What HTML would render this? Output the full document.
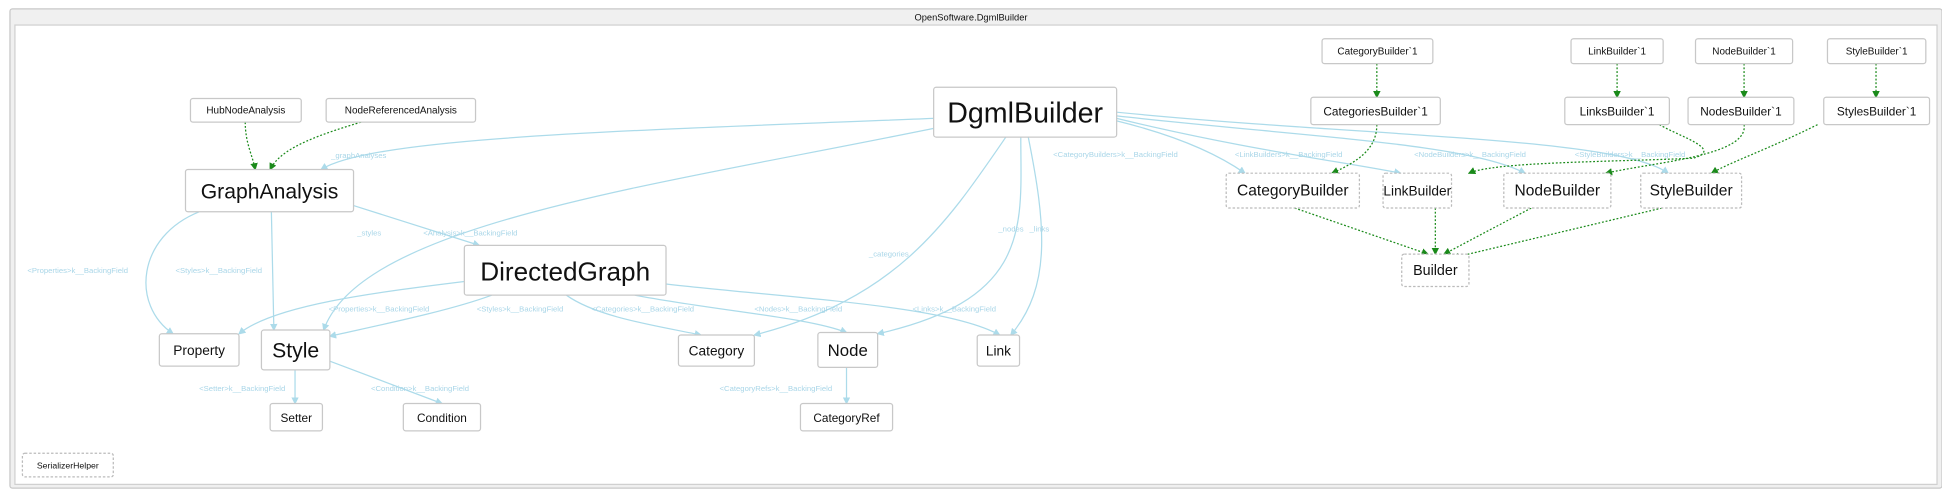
<!DOCTYPE html>
<html><head><meta charset="utf-8"><style>
html,body{margin:0;padding:0;background:#fff;}
svg{display:block;}
.n{fill:#fff;stroke:#c8c8c8;stroke-width:1;}
.d{fill:#fff;stroke:#bbb;stroke-width:1;stroke-dasharray:2 1.5;}
text{font-family:"Liberation Sans",sans-serif;fill:#111;text-anchor:middle;dominant-baseline:central;}
.l{font-size:6.2px;fill:#a9d6e8;text-anchor:start;}
.b{fill:none;stroke:#acdbea;stroke-width:1;}
.g{fill:none;stroke:#1a8a1a;stroke-width:1;stroke-dasharray:1.5 1.5;}
</style></head><body>
<svg width="1942" height="497" viewBox="0 0 1560 399" xmlns="http://www.w3.org/2000/svg">
<defs>
<marker id="ab" markerWidth="6" markerHeight="6" refX="5" refY="3" orient="auto" markerUnits="userSpaceOnUse"><path d="M0,0 L6,3 L0,6z" fill="#acdbea"/></marker>
<marker id="ag" markerWidth="6" markerHeight="6" refX="5" refY="3" orient="auto" markerUnits="userSpaceOnUse"><path d="M0,0 L6,3 L0,6z" fill="#1a8a1a"/></marker>
</defs>
<rect x="8" y="7" width="1552" height="385" rx="2" fill="#f0f0f0" stroke="#c8c8c8"/>
<rect x="12" y="20" width="1544" height="369" fill="#fff" stroke="#d0d0d0"/>
<text x="780" y="14" style="font-size:7.5px">OpenSoftware.DgmlBuilder</text>

<g marker-end="url(#ab)">
<path class="b" d="M750,95 C500,105 300,110 258,136"/>
<path class="b" d="M750,103 C520,150 290,180 260,265"/>
<path class="b" d="M284,165 L385,197"/>
<path class="b" d="M160,170 C110,190 105,245 139,268"/>
<path class="b" d="M218,170 L220,265"/>
<path class="b" d="M373,226 C300,235 220,245 192,268"/>
<path class="b" d="M395,237 C360,250 300,262 265,270"/>
<path class="b" d="M455,237 C480,255 530,262 563,269"/>
<path class="b" d="M510,237 C580,250 650,255 680,267"/>
<path class="b" d="M535,228 C640,240 760,245 803,269"/>
<path class="b" d="M808,110 C760,180 720,240 606,269"/>
<path class="b" d="M820,110 C820,180 830,240 705,268"/>
<path class="b" d="M826,110 C840,180 845,230 812,269"/>
<path class="b" d="M897,97 C950,110 980,125 1000,139"/>
<path class="b" d="M897,95 C1000,120 1080,130 1125,139"/>
<path class="b" d="M897,93 C1050,110 1180,115 1225,139"/>
<path class="b" d="M897,90 C1100,110 1300,110 1340,139"/>
<path class="b" d="M265,290 L355,324"/>
<path class="b" d="M237,297 L237,324"/>
<path class="b" d="M680,295 L680,324"/>
</g>
<g marker-end="url(#ag)">
<path class="g" d="M197,98 C197,115 203,125 205,136"/>
<path class="g" d="M290,98 C250,110 225,120 217,136"/>
<path class="g" d="M1106,51 L1106,78"/>
<path class="g" d="M1299,51 L1299,78"/>
<path class="g" d="M1401,51 L1401,78"/>
<path class="g" d="M1507,51 L1507,78"/>
<path class="g" d="M1106,100 C1106,120 1090,130 1070,139"/>
<path class="g" d="M1333,100 C1350,110 1385,120 1360,127 C1290,130 1200,130 1180,139"/>
<path class="g" d="M1401,100 C1405,125 1330,130 1290,139"/>
<path class="g" d="M1460,100 C1420,120 1390,130 1375,139"/>
<path class="g" d="M1040,167 L1147,204"/>
<path class="g" d="M1153,167 L1153,204"/>
<path class="g" d="M1230,167 L1160,204"/>
<path class="g" d="M1335,167 L1167,207"/>
</g>

<text class="l" x="266" y="125">_graphAnalyses</text>
<text class="l" x="287" y="187">_styles</text>
<text class="l" x="340" y="187">&lt;Analysis&gt;k__BackingField</text>
<text class="l" x="22" y="217">&lt;Properties&gt;k__BackingField</text>
<text class="l" x="141" y="217">&lt;Styles&gt;k__BackingField</text>
<text class="l" x="264" y="248">&lt;Properties&gt;k__BackingField</text>
<text class="l" x="383" y="248">&lt;Styles&gt;k__BackingField</text>
<text class="l" x="475" y="248">&lt;Categories&gt;k__BackingField</text>
<text class="l" x="606" y="248">&lt;Nodes&gt;k__BackingField</text>
<text class="l" x="733" y="248">&lt;Links&gt;k__BackingField</text>
<text class="l" x="698" y="204">_categories</text>
<text class="l" x="802" y="184">_nodes</text>
<text class="l" x="827" y="184">_links</text>
<text class="l" x="846" y="124">&lt;CategoryBuilders&gt;k__BackingField</text>
<text class="l" x="992" y="124">&lt;LinkBuilders&gt;k__BackingField</text>
<text class="l" x="1136" y="124">&lt;NodeBuilders&gt;k__BackingField</text>
<text class="l" x="1265" y="124">&lt;StyleBuilders&gt;k__BackingField</text>
<text class="l" x="160" y="312">&lt;Setter&gt;k__BackingField</text>
<text class="l" x="298" y="312">&lt;Condition&gt;k__BackingField</text>
<text class="l" x="578" y="312">&lt;CategoryRefs&gt;k__BackingField</text>

<rect class="n" x="153" y="79" width="89" height="19" rx="2"/><text x="197.5" y="89" style="font-size:8px">HubNodeAnalysis</text>
<rect class="n" x="262" y="79" width="120" height="19" rx="2"/><text x="322" y="89" style="font-size:8px">NodeReferencedAnalysis</text>
<rect class="n" x="149" y="136" width="135" height="34" rx="2"/><text x="216.5" y="154" style="font-size:17px">GraphAnalysis</text>
<rect class="n" x="750" y="70" width="147" height="40" rx="2"/><text x="823.5" y="91" style="font-size:23px">DgmlBuilder</text>
<rect class="n" x="373" y="197" width="162" height="40" rx="2"/><text x="454" y="218" style="font-size:21px">DirectedGraph</text>
<rect class="n" x="128" y="268" width="64" height="26" rx="2"/><text x="160" y="281.5" style="font-size:11px">Property</text>
<rect class="n" x="210" y="265" width="55" height="32" rx="2"/><text x="237.5" y="282" style="font-size:17px">Style</text>
<rect class="n" x="545" y="269" width="61" height="25" rx="2"/><text x="575.5" y="282" style="font-size:11px">Category</text>
<rect class="n" x="657" y="267" width="48" height="28" rx="2"/><text x="681" y="281.5" style="font-size:13.5px">Node</text>
<rect class="n" x="785" y="269" width="34" height="25" rx="2"/><text x="802" y="282" style="font-size:11px">Link</text>
<rect class="n" x="217" y="324" width="42" height="22" rx="2"/><text x="238" y="335.5" style="font-size:9.5px">Setter</text>
<rect class="n" x="324" y="324" width="62" height="22" rx="2"/><text x="355" y="335.5" style="font-size:9.5px">Condition</text>
<rect class="n" x="643" y="324" width="74" height="22" rx="2"/><text x="680" y="335.5" style="font-size:9.5px">CategoryRef</text>
<rect class="d" x="18" y="364" width="73" height="19" rx="2"/><text x="54.5" y="374" style="font-size:7px">SerializerHelper</text>
<rect class="n" x="1062" y="31" width="89" height="20" rx="2"/><text x="1106.5" y="41.5" style="font-size:8px">CategoryBuilder`1</text>
<rect class="n" x="1053" y="78" width="104" height="22" rx="2"/><text x="1105" y="89.5" style="font-size:9.5px">CategoriesBuilder`1</text>
<rect class="n" x="1262" y="31" width="74" height="20" rx="2"/><text x="1299" y="41.5" style="font-size:8px">LinkBuilder`1</text>
<rect class="n" x="1362" y="31" width="78" height="20" rx="2"/><text x="1401" y="41.5" style="font-size:8px">NodeBuilder`1</text>
<rect class="n" x="1468" y="31" width="79" height="20" rx="2"/><text x="1507.5" y="41.5" style="font-size:8px">StyleBuilder`1</text>
<rect class="n" x="1257" y="78" width="84" height="22" rx="2"/><text x="1299" y="89.5" style="font-size:9.5px">LinksBuilder`1</text>
<rect class="n" x="1356" y="78" width="85" height="22" rx="2"/><text x="1398.5" y="89.5" style="font-size:9.5px">NodesBuilder`1</text>
<rect class="n" x="1465" y="78" width="85" height="22" rx="2"/><text x="1507.5" y="89.5" style="font-size:9.5px">StylesBuilder`1</text>
<rect class="d" x="985" y="139" width="107" height="28" rx="2"/><text x="1038.5" y="153.5" style="font-size:12.5px">CategoryBuilder</text>
<rect class="d" x="1111" y="139" width="55" height="28" rx="2"/><text x="1138.5" y="153.5" style="font-size:11px">LinkBuilder</text>
<rect class="d" x="1208" y="139" width="86" height="28" rx="2"/><text x="1251" y="153.5" style="font-size:12.5px">NodeBuilder</text>
<rect class="d" x="1318" y="139" width="81" height="28" rx="2"/><text x="1358.5" y="153.5" style="font-size:12.5px">StyleBuilder</text>
<rect class="d" x="1126" y="204" width="54" height="26" rx="2"/><text x="1153" y="217.5" style="font-size:11.5px">Builder</text>
</svg>
</body></html>
